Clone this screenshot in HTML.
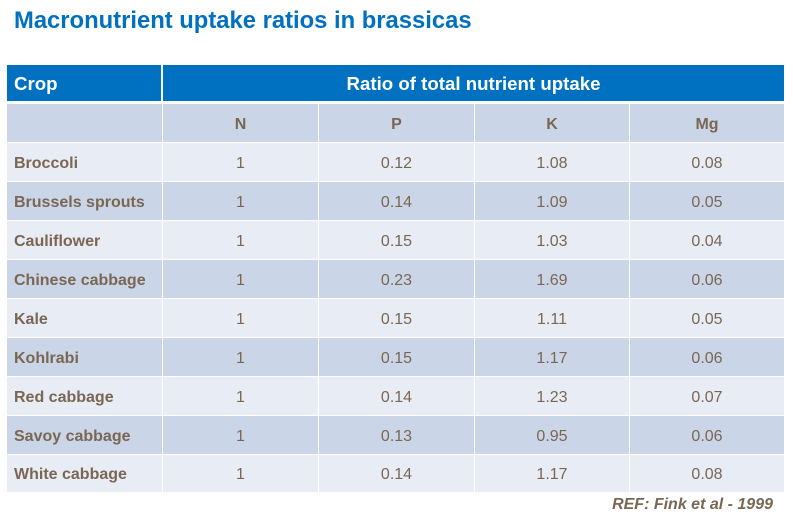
<!DOCTYPE html>
<html>
<head>
<meta charset="utf-8">
<style>
  html, body { margin:0; padding:0; background:#fff; }
  body { width:793px; height:522px; position:relative; overflow:hidden; font-family:"Liberation Sans", Arial, sans-serif; }
  .title { position:absolute; left:14px; top:6px; font-size:23.8px; font-weight:bold; color:#0070C0; white-space:nowrap; line-height:30px; }
  .hdr { position:absolute; top:65px; height:36px; background:#0070C0; color:#fff; font-weight:bold; font-size:18.67px; display:flex; align-items:center; padding-top:2px; box-sizing:border-box; }
  .cell { position:absolute; display:flex; align-items:center; justify-content:center; font-size:16px; color:#7a6753; padding-top:3px; box-sizing:border-box; }
  .lab { justify-content:flex-start; padding-left:7px; font-weight:bold; }
  .b { font-weight:bold; }
  .dark { background:#CBD5E8; }
  .light { background:#E8ECF5; }
  .ref { position:absolute; right:20px; top:496px; font-size:16px; font-weight:bold; font-style:italic; color:#7a6753; white-space:nowrap; line-height:18px; }
</style>
</head>
<body>
<div class="title">Macronutrient uptake ratios in brassicas</div>

<div class="hdr" style="left:7px;width:154px;padding-left:7px;">Crop</div>
<div class="hdr" style="left:163px;width:621px;justify-content:center;">Ratio of total nutrient uptake</div>

<div id="grid"></div>
<script>
(function(){
  var rows = [
    ["", "N","P","K","Mg"],
    ["Broccoli","1","0.12","1.08","0.08"],
    ["Brussels sprouts","1","0.14","1.09","0.05"],
    ["Cauliflower","1","0.15","1.03","0.04"],
    ["Chinese cabbage","1","0.23","1.69","0.06"],
    ["Kale","1","0.15","1.11","0.05"],
    ["Kohlrabi","1","0.15","1.17","0.06"],
    ["Red cabbage","1","0.14","1.23","0.07"],
    ["Savoy cabbage","1","0.13","0.95","0.06"],
    ["White cabbage","1","0.14","1.17","0.08"]
  ];
  var cols = [7,163,319,475,630,784];
  var html = "";
  for (var r=0;r<rows.length;r++){
    var top = 104 + r*39;
    var h = (r==rows.length-1) ? 37 : 38;
    var cls = (r%2==0) ? "dark" : "light";
    for (var c=0;c<5;c++){
      var left = cols[c];
      var w = cols[c+1] - left - (c<4 ? 1 : 0);
      var extra = (c==0) ? " lab" : (r==0 ? " b" : "");
      html += '<div class="cell '+cls+extra+'" style="left:'+left+'px;top:'+top+'px;width:'+w+'px;height:'+h+'px;">'+rows[r][c]+'</div>';
    }
  }
  document.getElementById("grid").innerHTML = html;
})();
</script>

<div class="ref">REF: Fink et al - 1999</div>
</body>
</html>
